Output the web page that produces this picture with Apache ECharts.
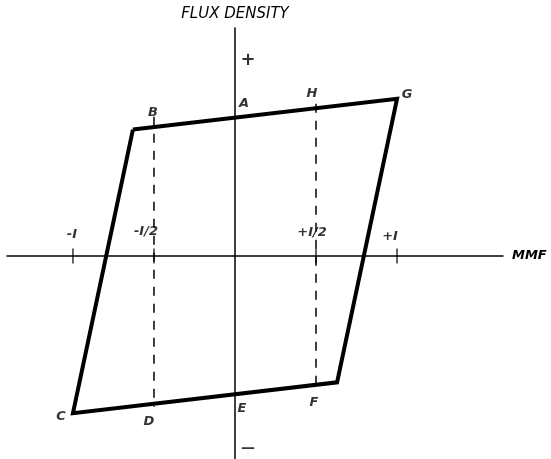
<!DOCTYPE html>
<html>
<head>
<meta charset="utf-8">
<script src="https://cdn.jsdelivr.net/npm/echarts@6/dist/echarts.min.js"></script>
<style>
html, body { margin: 0; background: #fff; }
#chart { width: 551px; height: 459px; }
</style>
</head>
<body>
<div id="chart"></div>
<script>
// corners of the loop, MMF in units of I (flux drawn on the same scale)
var loopX = [-0.63, 1.0, 0.63, -1.0, -0.63];
var loopY = [0.78, 0.97, -0.78, -0.97, 0.78];

// ticks on the MMF axis
var tickX = [-1, -0.5, 0.5, 1];
var tickLabels = ['-I', '-I/2', '+I/2', '+I'];

// lettered points on the loop
var pointNames = ['A', 'B', 'C', 'D', 'E', 'F', 'G', 'H'];
var pointX = [0, -0.5, -1.0, -0.5, 0, 0.5, 1.0, 0.5];
var pointY = [0.853, 0.795, -0.97, -0.912, -0.853, -0.795, 0.97, 0.912];

// dashed ordinates at -I/2 and +I/2
var dashX = [-0.5, 0.5];
var dashTop = [0.86, 0.94];
var dashBottom = [-0.93, -0.84];

// + / - marks beside the flux axis
var signText = ['+', '\u2014'];
var signY = [1.21, -1.19];
var signSize = [18, 14];

var font = 'DejaVu Sans';

// where each letter sits relative to its point (px)
var letterOffset = {
    A: [9, -14], B: [-1, -15], C: [-12, 3], D: [-5, 18],
    E: [7, 14], F: [-2, 18], G: [10, -4], H: [-4, -15]
};
var tickOffset = [[-1, -21], [-8, -24], [-4, -23], [-7, -19]];

var textStyle = {
    color: '#000',
    fontFamily: font,
    fontStyle: 'italic',
    fontWeight: 'bold',
    fontSize: 13
};

var series = [];

// the loop itself
series.push({
    type: 'line',
    data: loopX.map(function (x, i) { return [x, loopY[i]]; }),
    symbol: 'none',
    lineStyle: { color: '#000', width: 4, join: 'miter' },
    z: 5,
    silent: true
});

// dashed lines
dashX.forEach(function (x, i) {
    series.push({
        type: 'line',
        data: [[x, dashTop[i]], [x, dashBottom[i]]],
        symbol: 'none',
        lineStyle: { color: '#000', width: 1.5, type: [9, 8] },
        z: 3,
        silent: true
    });
});

// ticks with their labels
series.push({
    type: 'scatter',
    data: tickX.map(function (x, i) {
        return {
            value: [x, 0],
            label: {
                show: true,
                position: 'inside',
                offset: tickOffset[i],
                formatter: tickLabels[i]
            }
        };
    }),
    symbol: 'rect',
    symbolSize: [1.5, 15],
    itemStyle: { color: '#000' },
    label: Object.assign({}, textStyle),
    z: 4,
    silent: true
});

// lettered points
series.push({
    type: 'scatter',
    data: pointNames.map(function (n, i) {
        return {
            name: n,
            value: [pointX[i], pointY[i]],
            label: { offset: letterOffset[n] }
        };
    }),
    symbolSize: 0,
    label: Object.assign({ show: true, position: 'inside', formatter: '{b}' }, textStyle),
    z: 6,
    silent: true
});

// + and - by the vertical axis
series.push({
    type: 'scatter',
    data: signY.map(function (y, i) {
        return { name: signText[i], value: [0, y], label: { fontSize: signSize[i] } };
    }),
    symbolSize: 0,
    label: {
        show: true,
        position: 'inside',
        offset: [13, 0],
        formatter: '{b}',
        color: '#000',
        fontFamily: font,
        fontWeight: 'bold'
    },
    silent: true
});

var option = {
    backgroundColor: '#fff',
    animation: false,
    grid: { left: 7, right: 48, top: 28, bottom: 0 },
    xAxis: {
        type: 'value',
        min: -1.407,
        max: 1.654,
        name: 'MMF',
        nameLocation: 'end',
        nameGap: 9,
        nameTextStyle: Object.assign({}, textStyle, { fontSize: 13 }),
        axisLine: { onZero: true, lineStyle: { color: '#000', width: 1.5 } },
        axisTick: { show: false },
        axisLabel: { show: false },
        splitLine: { show: false }
    },
    yAxis: {
        type: 'value',
        min: -1.253,
        max: 1.407,
        name: 'FLUX DENSITY',
        nameLocation: 'end',
        nameGap: 6,
        nameTextStyle: Object.assign({}, textStyle, { fontSize: 15, fontWeight: 'normal' }),
        axisLine: { onZero: true, lineStyle: { color: '#000', width: 1.5 } },
        axisTick: { show: false },
        axisLabel: { show: false },
        splitLine: { show: false }
    },
    series: series
};

var chart = echarts.init(document.getElementById('chart'));
chart.setOption(option);
</script>
</body>
</html>
